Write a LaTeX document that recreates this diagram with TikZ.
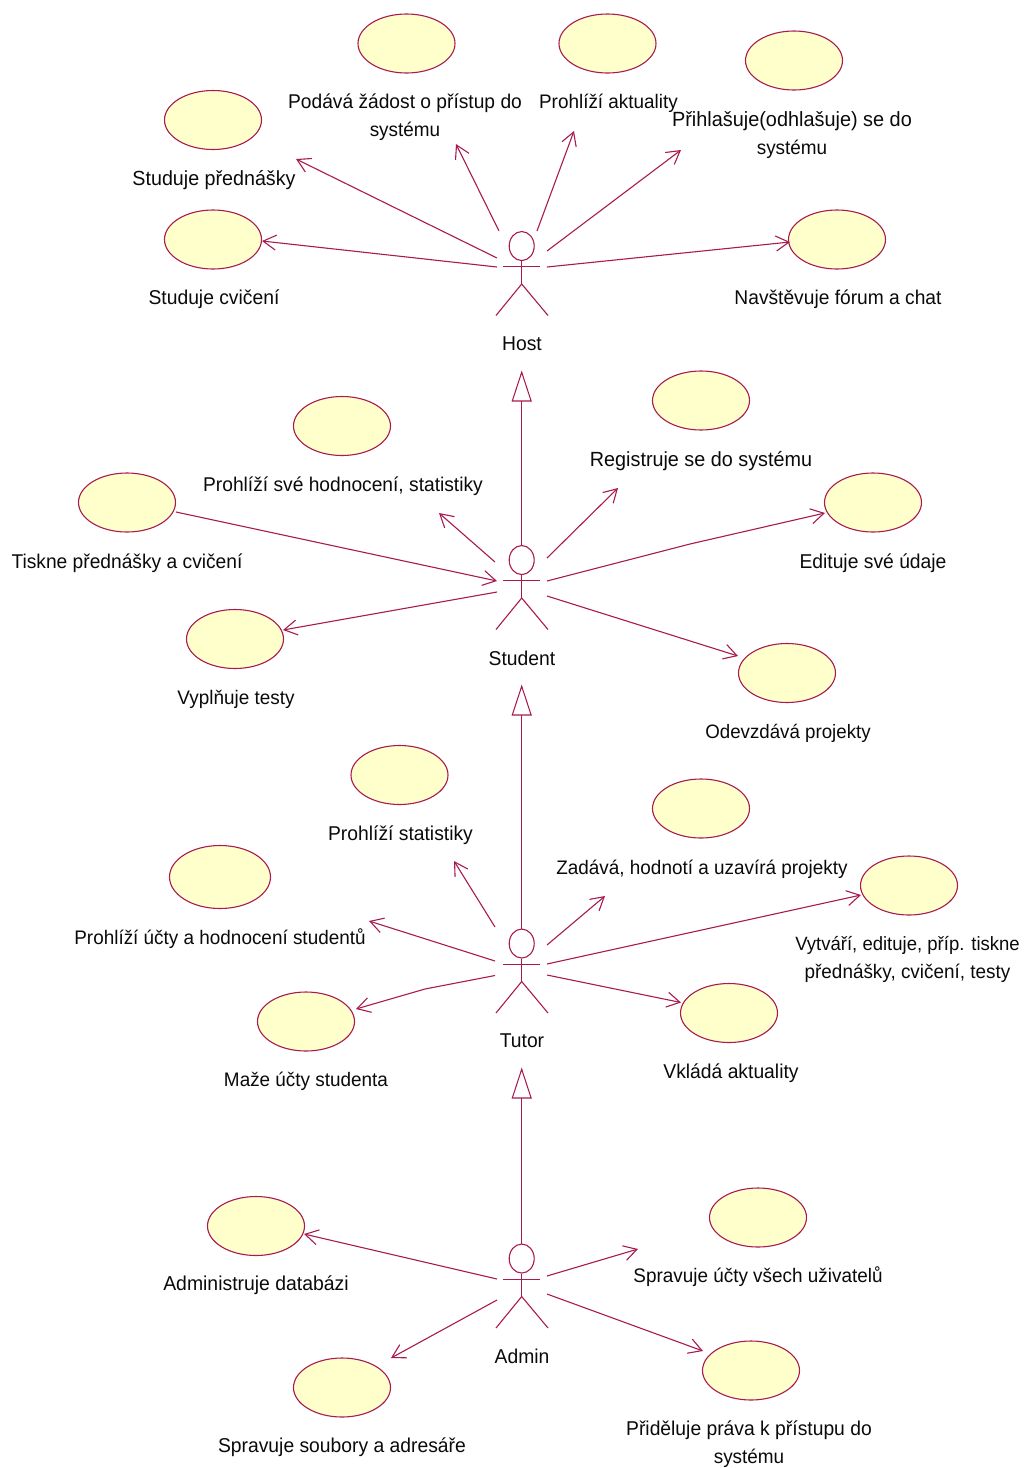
\documentclass[tikz,border=0pt]{standalone}
\usepackage{fontspec}
\setmainfont[FakeStretch=0.965]{Liberation Sans}
\usetikzlibrary{shapes.geometric,arrows.meta}
\definecolor{umlline}{HTML}{A81A50}
\definecolor{umlfill}{HTML}{FFFFCC}
\definecolor{umltext}{HTML}{0A0A0A}
\tikzset{
  usecase/.style={ellipse,draw=umlline,fill=umlfill,line width=1.1pt,inner sep=0pt,minimum width=97pt,minimum height=59pt},
  caption/.style={text=umltext,align=center,inner sep=0pt,font=\fontsize{19.6pt}{28pt}\selectfont},
  actorline/.style={draw=umlline,line width=1.1pt},
  assoc/.style={draw=umlline,line width=1.1pt,-{Straight Barb[length=13pt,width=15pt,line width=1.1pt]}},
  inherit/.style={draw=umlline,line width=1.05pt,-{Triangle[open,fill=white,length=31pt,width=20pt,line width=1.05pt]}}
}
\newcommand{\fsz}[1]{\fontsize{#1pt}{28pt}\selectfont}
% #1 name, #2 y of head top, #3 y of label, #4 label
\newcommand{\umlactor}[4]{%
  \node[actorline,ellipse,inner sep=0pt,minimum width=25pt,minimum height=29pt,anchor=north] (#1) at (521.7,#2) {};
  \coordinate (#1hip) at (521.7,#2+53);
  \coordinate (#1armL) at (503,#2+35.6);
  \coordinate (#1armR) at (540,#2+35.6);
  \coordinate (#1legL) at (496,#2+84.5);
  \coordinate (#1legR) at (548,#2+84.5);
  \draw[actorline] (#1.south) -- (#1hip);
  \draw[actorline] (#1armL) -- (#1armR);
  \draw[actorline] (#1legL) -- (#1hip) -- (#1legR);
  \node[caption] (#1label) at (522,#3+1.2) {\fsz{20}#4};
}
% #1 name, #2,#3 ellipse centre, #4,#5 caption centre, #6 caption
\newcommand{\umlcase}[7][]{%
  \node[usecase,#1] (#2) at (#3,#4) {};
  \node[caption] (#2label) at (#5,#6+2.1) {#7};
}
\newcommand{\pt}[3]{\coordinate (#1) at (#2,#3);}
\begin{document}
\begin{tikzpicture}[x=1pt,y=-1pt]
\useasboundingbox (0,0) rectangle (1024,1468);
% actors
\umlactor{host}{231}{343}{Host}
\umlactor{student}{545}{657}{Student}
\umlactor{tutor}{928.5}{1040}{Tutor}
\umlactor{admin}{1243.5}{1355}{Admin}
% use cases
\umlcase{predn}{213}{120}{214}{178}{\fsz{20.4}Studuje přednášky}
\umlcase{zadost}{406.5}{43.5}{405}{115}{\fsz{19.9}Podává žádost o přístup do\\systému}
\umlcase{aktual}{607.5}{43.5}{608.5}{101}{Prohlíží aktuality}
\umlcase{prihl}{794}{60.5}{792}{133}{\fsz{20.6}Přihlašuje(odhlašuje) se do\\systému}
\umlcase{cvic}{213}{239.5}{214}{297}{\fsz{20}Studuje cvičení}
\umlcase{forum}{837}{239.5}{838}{297}{\fsz{19.9}Navštěvuje fórum a chat}
\umlcase{hodn}{342}{426}{343}{484}{\fsz{19.9}Prohlíží své hodnocení, statistiky}
\umlcase{regis}{701}{400.5}{701}{459}{\fsz{20.5}Registruje se do systému}
\umlcase{tisk}{127}{502.5}{127}{561}{\fsz{19.9}Tiskne přednášky a cvičení}
\umlcase{udaje}{873}{502.5}{873}{561}{\fsz{20}Edituje své údaje}
\umlcase{testy}{235}{639}{236}{697}{Vyplňuje testy}
\umlcase{proj}{787}{673}{788}{731}{\fsz{19.4}Odevzdává projekty}
\umlcase{stat}{399.5}{775}{400.5}{833}{\fsz{20}Prohlíží statistiky}
\umlcase{zadava}{701}{808.5}{702}{867}{Zadává, hodnotí a uzavírá projekty}
\umlcase[minimum width=101pt,minimum height=63pt]{ucty}{220}{877}{220}{937}{Prohlíží účty a hodnocení studentů}
\umlcase{vytv}{909}{885.5}{907.5}{957}{\fsz{19.2}Vytváří, edituje, příp. tiskne\\přednášky, cvičení, testy}
\umlcase{maze}{306}{1021.5}{306}{1079}{Maže účty studenta}
\umlcase{vklada}{729}{1013}{731}{1071}{\fsz{20}Vkládá aktuality}
\umlcase{db}{256}{1226}{256}{1283}{\fsz{20.1}Administruje databázi}
\umlcase{vsech}{758}{1217.5}{758}{1275}{Spravuje účty všech uživatelů}
\umlcase{soub}{342}{1387.5}{342}{1445}{\fsz{20}Spravuje soubory a adresáře}
\umlcase{prava}{751}{1370.5}{749}{1442}{\fsz{20}Přiděluje práva k přístupu do\\systému}
% connector ends
\pt{a1}{497}{258}\pt{a1e}{296}{159}
\pt{a2}{497}{267}\pt{a2e}{262}{241}
\pt{a3}{499}{231}\pt{a3e}{456}{144}
\pt{a4}{537}{231}\pt{a4e}{574}{131}
\pt{a5}{547}{251}\pt{a5e}{681}{150}
\pt{a6}{547}{267}\pt{a6e}{790}{242}
\pt{b1}{495}{562}\pt{b1e}{439}{513}
\pt{b2}{547}{558}\pt{b2e}{618}{488}
\pt{b3}{176}{512}\pt{b3e}{497}{581}
\pt{b4}{547}{581}\pt{b4m}{690}{544}\pt{b4e}{825}{513}
\pt{b5}{497}{592}\pt{b5e}{283}{630}
\pt{b6}{547}{596}\pt{b6e}{738}{656}
\pt{c1}{495}{927}\pt{c1e}{454}{861}
\pt{c2}{547}{945}\pt{c2e}{605}{896}
\pt{c3}{495}{961}\pt{c3e}{369}{921}
\pt{c4}{547}{964}\pt{c4e}{861}{895}
\pt{c5}{495}{975.5}\pt{c5m}{425}{989}\pt{c5e}{356}{1009}
\pt{c6}{547}{975}\pt{c6e}{681}{1002.5}
\pt{d1}{497}{1279}\pt{d1e}{304}{1234}
\pt{d2}{547}{1276}\pt{d2e}{638}{1249}
\pt{d3}{497}{1300}\pt{d3e}{391}{1358}
\pt{d4}{547}{1294}\pt{d4e}{703}{1351}
\draw[assoc] (a1) -- (a1e);
\draw[assoc] (a2) -- (a2e);
\draw[assoc] (a3) -- (a3e);
\draw[assoc] (a4) -- (a4e);
\draw[assoc] (a5) -- (a5e);
\draw[assoc] (a6) -- (a6e);
\draw[assoc] (b1) -- (b1e);
\draw[assoc] (b2) -- (b2e);
\draw[assoc] (b3) -- (b3e);
\draw[assoc] (b4) -- (b4m) -- (b4e);
\draw[assoc] (b5) -- (b5e);
\draw[assoc] (b6) -- (b6e);
\draw[assoc] (c1) -- (c1e);
\draw[assoc] (c2) -- (c2e);
\draw[assoc] (c3) -- (c3e);
\draw[assoc] (c4) -- (c4e);
\draw[assoc] (c5) -- (c5m) -- (c5e);
\draw[assoc] (c6) -- (c6e);
\draw[assoc] (d1) -- (d1e);
\draw[assoc] (d2) -- (d2e);
\draw[assoc] (d3) -- (d3e);
\draw[assoc] (d4) -- (d4e);
% generalisations
\coordinate (hosttip) at (521.7,370.5);
\coordinate (studenttip) at (521.7,684.5);
\coordinate (tutortip) at (521.7,1067.5);
\draw[inherit] (student.north) -- (hosttip);
\draw[inherit] (tutor.north) -- (studenttip);
\draw[inherit] (admin.north) -- (tutortip);
\end{tikzpicture}
\end{document}
